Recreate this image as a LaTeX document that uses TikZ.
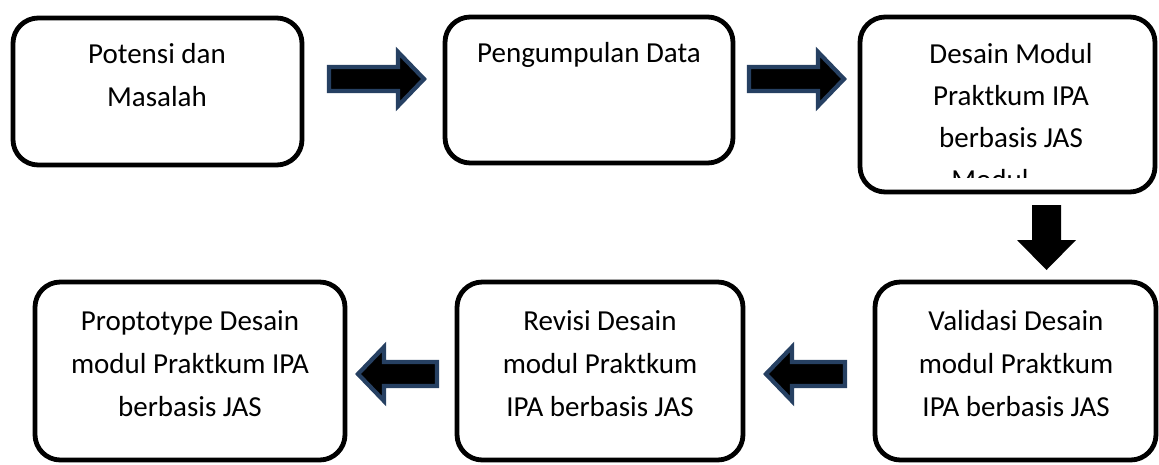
\documentclass[tikz,border=0pt]{standalone}
\usepackage{fontspec}
\setmainfont{Carlito}
\usetikzlibrary{fit}
\definecolor{arrowblue}{RGB}{38,64,98}
\tikzset{
  stepbox/.style={draw=black, line width=3.6pt, rounded corners=19pt, inner sep=0pt, fill=white},
  txt/.style={anchor=base, inner sep=0pt, font=\fontsize{21.75}{26}\selectfont},
  arrowline/.style={draw=arrowblue, fill=black, line width=3.2pt},
  pics/rarrow/.style={code={
    \path[arrowline] (2,-12) -- ({#1-29},-12) -- ({#1-29},-27) -- ({#1-3},0)
      -- ({#1-29},27) -- ({#1-29},12) -- (2,12) -- cycle;}}
}
\begin{document}
\begin{tikzpicture}[x=0.75pt,y=-0.75pt]
\useasboundingbox (0,0) rectangle (1159,464);

% process boxes
\node[stepbox, fit={(13,18) (302,165)}] (b1) {};
\node[stepbox, fit={(445,17) (733,163)}] (b2) {};
\node[stepbox, fit={(860,17) (1155,192)}] (b3) {};
\node[stepbox, fit={(875,282) (1156,460)}] (b4) {};
\node[stepbox, fit={(457,282) (743,460)}] (b5) {};
\node[stepbox, fit={(35,282) (345,460)}] (b6) {};

% box labels
\node[txt] (t1a) at (157,63) {Potensi dan};
\node[txt] (t1b) at (157,106) {Masalah};

\node[txt] (t2a) at (589,62) {Pengumpulan Data};

\node[txt] (t3a) at (1011,63) {Desain Modul};
\node[txt] (t3b) at (1011,105) {Praktkum IPA};
\node[txt] (t3c) at (1011,147) {berbasis JAS};
\begin{scope}
  \clip (862,20) rectangle (1153,177);
  \node[txt] (t3d) at (990,189) {Modul};
\end{scope}

\node[txt] (t4a) at (1016,330) {Validasi Desain};
\node[txt] (t4b) at (1016,373) {modul Praktkum};
\node[txt] (t4c) at (1016,416) {IPA berbasis JAS};

\node[txt] (t5a) at (600,330) {Revisi Desain};
\node[txt] (t5b) at (600,373) {modul Praktkum};
\node[txt] (t5c) at (600,416) {IPA berbasis JAS};

\node[txt] (t6a) at (190,330) {Proptotype Desain};
\node[txt] (t6b) at (190,373) {modul Praktkum IPA};
\node[txt] (t6c) at (190,416) {berbasis JAS};

% block arrows between the steps
\pic at (327,79) {rarrow=100};
\pic at (747,79) {rarrow=100};
\pic[rotate=180] at (847,374) {rarrow=84};
\pic[rotate=180] at (439,374) {rarrow=84};
\fill[black] (1032,205) -- (1061,205) -- (1061,240) -- (1076,240)
  -- (1046.5,270) -- (1017,240) -- (1032,240) -- cycle;
\end{tikzpicture}
\end{document}
